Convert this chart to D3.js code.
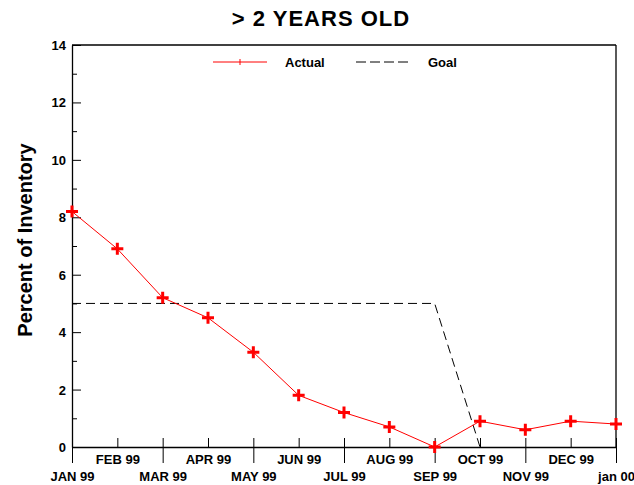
<!DOCTYPE html>
<html>
<head>
<meta charset="utf-8">
<script src="https://cdn.jsdelivr.net/npm/d3@7"></script>
<style>
  html, body { margin: 0; padding: 0; background: #fff; }
  text { font-family: "Liberation Sans", Arial, sans-serif; font-weight: bold; fill: #000; }
</style>
</head>
<body>
<svg id="chart" width="634" height="485"></svg>
<script>
const months = ["JAN 99","FEB 99","MAR 99","APR 99","MAY 99","JUN 99","JUL 99","AUG 99","SEP 99","OCT 99","NOV 99","DEC 99","jan 00"];
const actual = [8.2, 6.9, 5.2, 4.5, 3.3, 1.8, 1.2, 0.7, 0.0, 0.9, 0.6, 0.9, 0.8];
const goalMonths = [0, 8, 9];
const goalValues = [5, 5, 0];
const yTicks = [0,1,2,3,4,5,6,7,8,9,10,11,12,13,14];
const title = "> 2 YEARS OLD";
const yTitle = "Percent of Inventory";

(function () {
const svg = d3.select("#chart");
const pL = 72, pR = 616, pT = 45, pB = 447;
const x = d3.scaleLinear().domain([0, months.length - 1]).range([pL, pR]);
const y = d3.scaleLinear().domain([0, 14]).range([pB, pT]);

// title
svg.append("text").attr("x", 321).attr("y", 26).attr("text-anchor", "middle")
  .style("font-size", "22px").style("letter-spacing", "1px").text(title);

// y title
svg.append("text").attr("transform", "translate(32,240) rotate(-90)")
  .attr("text-anchor", "middle").style("font-size", "20px").text(yTitle);

// frame top & right
svg.append("line").attr("x1", pL).attr("x2", pR).attr("y1", pT).attr("y2", pT)
  .attr("stroke", "#000").attr("stroke-width", 1.3);
svg.append("line").attr("x1", pR).attr("x2", pR).attr("y1", pT).attr("y2", pB)
  .attr("stroke", "#000").attr("stroke-width", 1.3);

// x axis
const xAxis = svg.append("g").attr("transform", `translate(0,${pB})`)
  .call(d3.axisBottom(x).tickValues(d3.range(months.length)).tickFormat(i => months[i]).tickSizeOuter(0));
xAxis.select(".domain").attr("stroke", "#000").attr("stroke-width", 1.3);
xAxis.selectAll(".tick line")
  .attr("y1", -9)
  .attr("y2", (d) => d % 2 === 0 ? 16 : 0)
  .attr("stroke", "#000");
xAxis.selectAll(".tick text")
  .attr("y", (d) => d % 2 === 0 ? 34 : 17)
  .attr("dy", 0)
  .style("font-size", "13px");

// y axis
const yAxis = svg.append("g").attr("transform", `translate(${pL},0)`)
  .call(d3.axisLeft(y).tickValues(yTicks).tickFormat(v => v % 2 === 0 ? v : "").tickSizeOuter(0));
yAxis.select(".domain").attr("stroke", "#000").attr("stroke-width", 1.3);
yAxis.selectAll(".tick line")
  .attr("x1", 0)
  .attr("x2", (d) => d % 2 === 0 ? 9 : 5)
  .attr("stroke", "#000");
yAxis.selectAll(".tick text")
  .attr("x", -6)
  .attr("dy", "0.35em")
  .style("font-size", "13px");

// goal line
const goalData = goalMonths.map((m, i) => [m, goalValues[i]]);
svg.append("path").datum(goalData)
  .attr("d", d3.line().x(d => x(d[0])).y(d => y(d[1])))
  .attr("fill", "none").attr("stroke", "#000").attr("stroke-width", 1)
  .attr("stroke-dasharray", "9,5");

// actual line
svg.append("path").datum(actual)
  .attr("d", d3.line().x((d, i) => x(i)).y(d => y(d)))
  .attr("fill", "none").attr("stroke", "#ff0000").attr("stroke-width", 1);

// markers
svg.selectAll(".pt").data(actual).enter().append("path")
  .attr("class", "pt")
  .attr("d", "M-6,0H6M0,-6V6")
  .attr("transform", (d, i) => `translate(${x(i)},${y(d)})`)
  .attr("stroke", "#ff0000").attr("stroke-width", 3).attr("fill", "none");

// legend
const lg = svg.append("g");
lg.append("line").attr("x1", 213).attr("x2", 267).attr("y1", 62).attr("y2", 62)
  .attr("stroke", "#ff0000").attr("stroke-width", 1);
lg.append("line").attr("x1", 240).attr("x2", 240).attr("y1", 59).attr("y2", 65)
  .attr("stroke", "#ff0000").attr("stroke-width", 1);
lg.append("text").attr("x", 285).attr("y", 67).style("font-size", "13px").text("Actual");
lg.append("line").attr("x1", 356).attr("x2", 410).attr("y1", 62).attr("y2", 62)
  .attr("stroke", "#000").attr("stroke-width", 1).attr("stroke-dasharray", "10,4");
lg.append("text").attr("x", 428).attr("y", 67).style("font-size", "13px").text("Goal");
})();
</script>
</body>
</html>
